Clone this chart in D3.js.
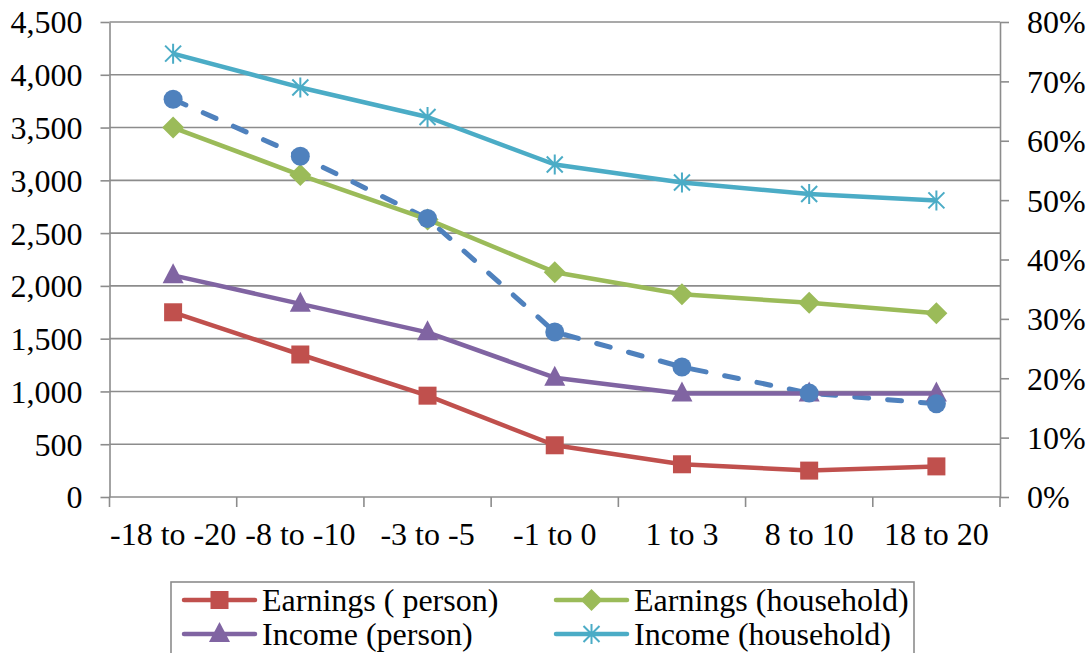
<!DOCTYPE html>
<html><head><meta charset="utf-8">
<script src="https://cdn.jsdelivr.net/npm/d3@7"></script>
<style>
html,body{margin:0;padding:0;background:#fff;}
</style></head>
<body>
<svg id="chart" width="1089" height="653"></svg>
<script>
const categories = ["-18 to -20","-8 to -10","-3 to -5","-1 to 0","1 to 3","8 to 10","18 to 20"];
const earningsPerson = [1750,1350,960,490,310,250,290];
const earningsHousehold = [3500,3050,2630,2130,1920,1840,1740];
const incomePerson = [2100,1830,1560,1130,980,980,980];
const incomeHousehold = [4200,3880,3600,3150,2980,2870,2810];
const shareRight = [0.67,0.574,0.469,0.278,0.219,0.175,0.157];
const leftTicks = [0,500,1000,1500,2000,2500,3000,3500,4000,4500];
const rightTicks = [0,0.1,0.2,0.3,0.4,0.5,0.6,0.7,0.8];

const FONT = "'Liberation Serif', 'Times New Roman', Tinos, 'DejaVu Serif', serif";
const svg = d3.select("#chart");
const L = 109.5, R = 1000, T = 22, B = 497;
const FS = 32;
const x = d3.scaleBand().domain(categories).range([L, R]).padding(0);
const y = d3.scaleLinear().domain([0,4500]).range([B, T]);
const y2 = d3.scaleLinear().domain([0,0.8]).range([B, T]);
const grey = "#8c8c8c";

// gridlines
svg.append("g").selectAll("line").data(leftTicks.filter(d=>d>0)).join("line")
  .attr("x1", L).attr("x2", R).attr("y1", d=>y(d)).attr("y2", d=>y(d))
  .attr("stroke", grey).attr("stroke-width", 1.6);

function styleAxis(g){
  g.attr("font-family", FONT).attr("font-size", FS);
  g.selectAll("path").attr("stroke", grey).attr("stroke-width",1.6);
  g.selectAll("line").attr("stroke", grey).attr("stroke-width",1.6);
  g.selectAll("text").style("font-family", FONT).style("font-size", FS+"px").attr("fill","#000");
}
// left axis
const gl = svg.append("g").attr("transform",`translate(${L},0)`)
  .call(d3.axisLeft(y).tickValues(leftTicks).tickFormat(d3.format(",")).tickSize(9).tickSizeOuter(0).tickPadding(18));
styleAxis(gl);
gl.selectAll("text").attr("dy","0.34em");
// right axis
const gr = svg.append("g").attr("transform",`translate(${R},0)`)
  .call(d3.axisRight(y2).tickValues(rightTicks).tickFormat(d3.format(".0%")).tickSize(9).tickSizeOuter(0).tickPadding(18));
styleAxis(gr);
gr.selectAll("text").attr("dy","0.34em");
// bottom axis (labels)
const gb = svg.append("g").attr("transform",`translate(0,${B})`)
  .call(d3.axisBottom(x).tickSize(0).tickSizeOuter(0).tickPadding(25));
styleAxis(gb);
gb.select("path").attr("d", `M${L-0.5},0H${R}`);
// boundary ticks
const bounds = categories.map(c=>x(c)).concat([x(categories[categories.length-1])+x.bandwidth()]);
svg.append("g").selectAll("line").data(bounds).join("line")
  .attr("x1", d=>d).attr("x2", d=>d).attr("y1", B).attr("y2", B+10)
  .attr("stroke", grey).attr("stroke-width",1.6);

const cx = c => x(c) + x.bandwidth()/2;

function marker(g, type, color){
  if(type==="square"){
    g.append("rect").attr("x",-9).attr("y",-9).attr("width",18).attr("height",18).attr("fill",color);
  } else if(type==="diamond"){
    g.append("path").attr("d","M0,-11L11,0L0,11L-11,0Z").attr("fill",color);
  } else if(type==="triangle"){
    g.append("path").attr("d","M0,-12L10.5,8L-10.5,8Z").attr("fill",color);
  } else if(type==="circle"){
    g.append("circle").attr("r",9.5).attr("fill",color);
  } else if(type==="star"){
    g.append("path").attr("d","M0,-10V10M-8,-8L8,8M-8,8L8,-8").attr("stroke",color).attr("stroke-width",2).attr("fill","none");
  }
}

const series = [
  {name:"Income (household)", vals:incomeHousehold, color:"#4BACC6", m:"star", scale:y},
  {name:"Earnings (household)", vals:earningsHousehold, color:"#9BBB59", m:"diamond", scale:y},
  {name:"Income (person)", vals:incomePerson, color:"#8064A2", m:"triangle", scale:y},
  {name:"Earnings ( person)", vals:earningsPerson, color:"#C0504D", m:"square", scale:y},
];

const lineGen = s => d3.line().x((d,i)=>cx(categories[i])).y(d=>s(d));

// dashed series on right axis
svg.append("path").datum(shareRight).attr("d", lineGen(y2))
  .attr("fill","none").attr("stroke","#4F81BD").attr("stroke-width",5)
  .attr("stroke-dasharray","14,19").attr("stroke-linecap","round");

series.slice().reverse().forEach(s=>{
  svg.append("path").datum(s.vals).attr("d", lineGen(s.scale))
    .attr("fill","none").attr("stroke", s.color).attr("stroke-width",4.5).attr("stroke-linejoin","round");
});
series.slice().reverse().forEach(s=>{
  s.vals.forEach((v,i)=>{
    const g = svg.append("g").attr("transform",`translate(${cx(categories[i])},${s.scale(v)})`);
    marker(g, s.m, s.color);
  });
});
shareRight.forEach((v,i)=>{
  const g = svg.append("g").attr("transform",`translate(${cx(categories[i])},${y2(v)})`);
  marker(g, "circle", "#4F81BD");
});

// legend
const lg = svg.append("g");
lg.append("rect").attr("x",171).attr("y",582).attr("width",743).attr("height",90)
  .attr("fill","#fff").attr("stroke",grey).attr("stroke-width",1.6);
const legendItems = [
  {s:series[3], x:184, y:600},
  {s:series[1], x:556, y:600},
  {s:series[2], x:184, y:634},
  {s:series[0], x:556, y:634},
];
legendItems.forEach(it=>{
  const g = lg.append("g").attr("transform",`translate(${it.x},${it.y})`);
  g.append("line").attr("x1",0).attr("x2",71).attr("y1",0).attr("y2",0)
    .attr("stroke", it.s.color).attr("stroke-width",4.5).attr("stroke-linecap","round");
  const mg = g.append("g").attr("transform","translate(35.5,0)");
  marker(mg, it.s.m, it.s.color);
  g.append("text").attr("x",78).attr("y",0).attr("dy","0.34em")
    .style("font-family", FONT).style("font-size",FS+"px").attr("fill","#000").text(it.s.name);
});
</script>
</body></html>
